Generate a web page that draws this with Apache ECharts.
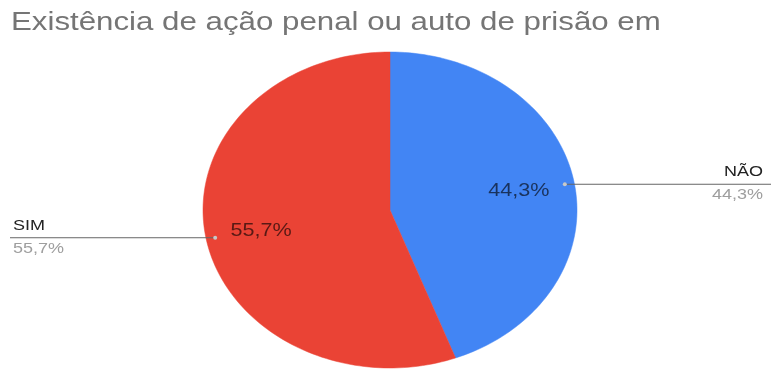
<!DOCTYPE html>
<html>
<head>
<meta charset="utf-8">
<script src="https://cdn.jsdelivr.net/npm/echarts@6/dist/echarts.min.js"></script>
<style>
  html, body { margin: 0; padding: 0; background: #ffffff; }
  #chart { width: 771px; height: 370px; }
</style>
</head>
<body>
<div id="chart"></div>
<script>
// Chart content
const chartTitle = 'Existência de ação penal ou auto de prisão em';
const categories = ['NÃO', 'SIM'];
const values = [44.3, 55.7];
const sliceColors = ['#4285F4', '#EA4335'];

// Text is drawn slightly widened to suit the oval pie
const TEXT_STRETCH = 1.2;
const TITLE_STRETCH = 1.25;
const FONT = '"Liberation Sans", Arial, sans-serif';

const total = values.reduce((a, b) => a + b, 0);
function fmtPct(v) {
  return (v / total * 100).toFixed(1).replace('.', ',') + '%';
}

// One row per slice: [start fraction, end fraction, value, index]
let acc = 0;
const sliceData = values.map((v, i) => {
  const start = acc / total;
  acc += v;
  return [start, acc / total, v, i];
});

function renderSlice(params, api) {
  const start = api.value(0) * Math.PI * 2;
  const end = api.value(1) * Math.PI * 2;
  const idx = api.value(3);
  const color = sliceColors[idx];

  // unit circle in data space -> oval on screen through the axes
  const pt = (a, r) => api.coord([r * Math.sin(a), r * Math.cos(a)]);

  const steps = Math.max(4, Math.ceil((end - start) / (Math.PI * 2) * 240));
  const points = [api.coord([0, 0])];
  for (let k = 0; k <= steps; k++) {
    points.push(pt(start + (end - start) * k / steps, 1));
  }

  const mid = (start + end) / 2;
  const inner = pt(mid, 0.7);
  const anchor = pt(mid, 0.95);
  const onRight = Math.sin(mid) > 0;
  const W = api.getWidth();
  const lineEnd = onRight ? W : 10;
  const textX = onRight ? W - 8 : 13;
  const align = onRight ? 'right' : 'left';
  const y = anchor[1] + 1;

  return {
    type: 'group',
    children: [
      {
        type: 'polygon',
        shape: { points: points },
        style: { fill: color, stroke: color, lineWidth: 0.5 }
      },
      {
        type: 'text',
        x: inner[0], y: inner[1] + 1,
        scaleX: TEXT_STRETCH,
        style: {
          text: fmtPct(api.value(2)),
          font: '18px ' + FONT,
          fill: 'rgba(0,0,0,0.62)',
          align: 'center', verticalAlign: 'middle'
        }
      },
      {
        type: 'line',
        shape: { x1: anchor[0], y1: y, x2: lineEnd, y2: y },
        style: { stroke: '#666666', lineWidth: 1 }
      },
      {
        type: 'circle',
        shape: { cx: anchor[0], cy: y, r: 2 },
        style: { fill: '#c8c8c8' }
      },
      {
        type: 'text',
        x: textX, y: y - 12,
        scaleX: TEXT_STRETCH,
        style: {
          text: categories[idx],
          font: '15px ' + FONT,
          fill: '#222222',
          align: align, verticalAlign: 'middle'
        }
      },
      {
        type: 'text',
        x: textX, y: y + 11,
        scaleX: TEXT_STRETCH,
        style: {
          text: fmtPct(api.value(2)),
          font: '15px ' + FONT,
          fill: '#9e9e9e',
          align: align, verticalAlign: 'middle'
        }
      }
    ]
  };
}

const chart = echarts.init(document.getElementById('chart'), null, { renderer: 'canvas' });
chart.setOption({
  animation: false,
  backgroundColor: '#ffffff',
  graphic: [{
    type: 'text',
    x: 11, y: 23,
    scaleX: TITLE_STRETCH,
    style: {
      text: chartTitle,
      font: '25px ' + FONT,
      fill: '#757575',
      align: 'left', verticalAlign: 'middle'
    }
  }],
  grid: { left: 203, top: 52, width: 374, height: 316 },
  xAxis: { type: 'value', min: -1, max: 1, show: false },
  yAxis: { type: 'value', min: -1, max: 1, show: false },
  series: [{
    type: 'custom',
    coordinateSystem: 'cartesian2d',
    clip: false,
    data: sliceData,
    renderItem: renderSlice
  }]
});
</script>
</body>
</html>
